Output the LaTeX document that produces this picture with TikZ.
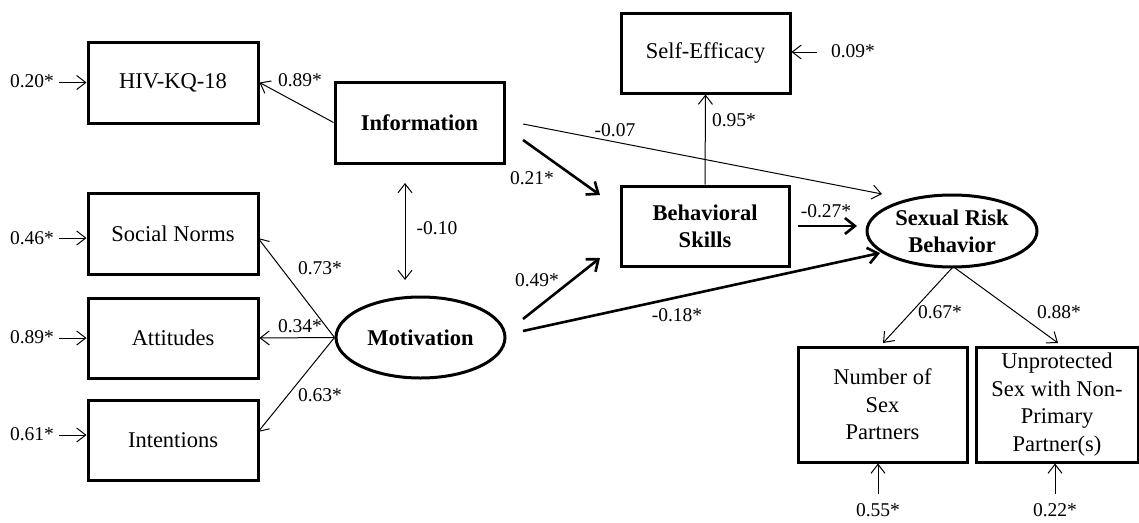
\documentclass[tikz,border=0pt]{standalone}
\usepackage{fontspec}
\setmainfont{Liberation Serif}
\usetikzlibrary{arrows.meta,shapes.geometric}
\begin{document}
\begin{tikzpicture}[x=1pt,y=-1pt,
  box/.style={draw,line width=3pt,inner sep=0pt,font=\fontsize{22.5}{27.5}\selectfont,align=center},
  ell/.style={draw,ellipse,line width=3pt,inner sep=0pt,font=\fontsize{22.5}{27}\selectfont\bfseries,align=center},
  lbl/.style={font=\fontsize{19.5}{22}\selectfont,inner sep=0pt},
  thinarr/.style={line width=1pt,-{Straight Barb[length=9pt,width=14pt]}},
  thickarr/.style={line width=2.6pt,-{Straight Barb[length=10pt,width=16pt]}},
  thinline/.style={line width=1pt}]
\useasboundingbox (0,0) rectangle (1139,522);
% boxes
\node[box,minimum width=170,minimum height=81] (hiv) at (173,82.5) {HIV-KQ-18};
\node[box,minimum width=169,minimum height=81,font=\fontsize{22.5}{27}\selectfont\bfseries] (info) at (419.5,122.5) {Information};
\node[box,minimum width=170,minimum height=81] (sn) at (173,233.5) {Social Norms};
\node[box,minimum width=170,minimum height=80] (att) at (173,338) {Attitudes};
\node[box,minimum width=170,minimum height=80] (int) at (173,440) {Intentions};
\node[ell,minimum width=169,minimum height=81] (mot) at (420.5,337.5) {Motivation};
\node[box,minimum width=168,minimum height=80,font=\fontsize{22.5}{27}\selectfont\bfseries] (bs) at (705,226) {Behavioral\\Skills};
\node[box,minimum width=169,minimum height=80] (se) at (705.5,53) {Self-Efficacy};
\node[ell,minimum width=170,minimum height=72] (srb) at (952,231) {Sexual Risk\\Behavior};
\node[box,minimum width=169,minimum height=115] (nsp) at (882.5,404.5) {Number of\\Sex\\Partners};
\node[box,minimum width=162,minimum height=115] (ups) at (1057,404.5) {Unprotected\\Sex with Non-\\Primary\\Partner(s)};
% residual labels and coordinates
\node[lbl] (r1) at (32,81) {0.20*};
\node[lbl] (r2) at (32,238) {0.46*};
\node[lbl] (r3) at (32,337) {0.89*};
\node[lbl] (r4) at (32,434) {0.61*};
\coordinate (e1) at (59,82.5);
\coordinate (e2) at (59,238);
\coordinate (e3) at (59,338);
\coordinate (e4) at (59,435);
\draw[thinarr] (e1) -- (hiv.west);
\draw[thinarr] (e2) -- (sn.west |- e2);
\draw[thinarr] (e3) -- (att.west);
\draw[thinarr] (e4) -- (int.west |- e4);
% info -> hiv
\draw[thinarr] (info.west) -- (hiv.east);
\node[lbl] (l89) at (300,80) {0.89*};
% motivation loadings
\coordinate (sne) at (258,238);
\coordinate (inte) at (258,432);
\draw[thinarr] (mot.west) -- (sne);
\draw[thinarr] (mot.west) -- (att.east);
\draw[thinarr] (mot.west) -- (inte);
\node[lbl] (l73) at (320,268) {0.73*};
\node[lbl] (l34) at (300,326) {0.34*};
\node[lbl] (l63) at (320,395) {0.63*};
% covariance
\coordinate (c1) at (405,183);
\coordinate (c2) at (405,280);
\draw[line width=1pt,{Straight Barb[length=9pt,width=14pt]}-{Straight Barb[length=9pt,width=14pt]}] (c1) -- (c2);
\node[lbl] (l10) at (437,228) {-0.10};
% paths to behavioral skills
\coordinate (a1s) at (523,140);
\coordinate (a1e) at (600,195);
\coordinate (a2s) at (523,319);
\coordinate (a2e) at (600,258);
\draw[thickarr] (a1s) -- (a1e);
\draw[thickarr] (a2s) -- (a2e);
\node[lbl] (l21) at (532,178) {0.21*};
\node[lbl] (l49) at (537,280) {0.49*};
% direct paths to SRB
\coordinate (b1s) at (523,124);
\coordinate (b1e) at (882,194);
\draw[thinarr] (b1s) -- (b1e);
\node[lbl] (l07) at (615,130) {-0.07};
\coordinate (b2s) at (523,331);
\coordinate (b2e) at (880,253);
\draw[thickarr] (b2s) -- (b2e);
\node[lbl] (l18) at (677,315) {-0.18*};
\coordinate (b3s) at (798,226);
\coordinate (b3e) at (857,226);
\draw[thickarr] (b3s) -- (b3e);
\node[lbl] (l27) at (826,211) {-0.27*};
% self-efficacy
\draw[thinarr] (bs.north) -- (se.south);
\node[lbl] (l95) at (734,120) {0.95*};
\coordinate (e5) at (817,52);
\draw[thinarr] (e5) -- (se.east |- e5);
\node[lbl] (l09) at (853,51) {0.09*};
% SRB indicators
\coordinate (s1) at (952,268);
\coordinate (s2) at (955,268);
\coordinate (n1) at (883,343);
\coordinate (n2) at (1058,343);
\draw[thinarr] (s1) -- (n1);
\draw[thinarr] (s2) -- (n2);
\node[lbl] (l67) at (940,312) {0.67*};
\node[lbl] (l88) at (1059,312) {0.88*};
\coordinate (e6) at (878,494);
\coordinate (e7) at (1055,494);
\draw[thinarr] (e6) -- (e6 |- nsp.south);
\draw[thinarr] (e7) -- (e7 |- ups.south);
\node[lbl] (l55) at (878,510) {0.55*};
\node[lbl] (l22) at (1055,510) {0.22*};
\end{tikzpicture}
\end{document}
